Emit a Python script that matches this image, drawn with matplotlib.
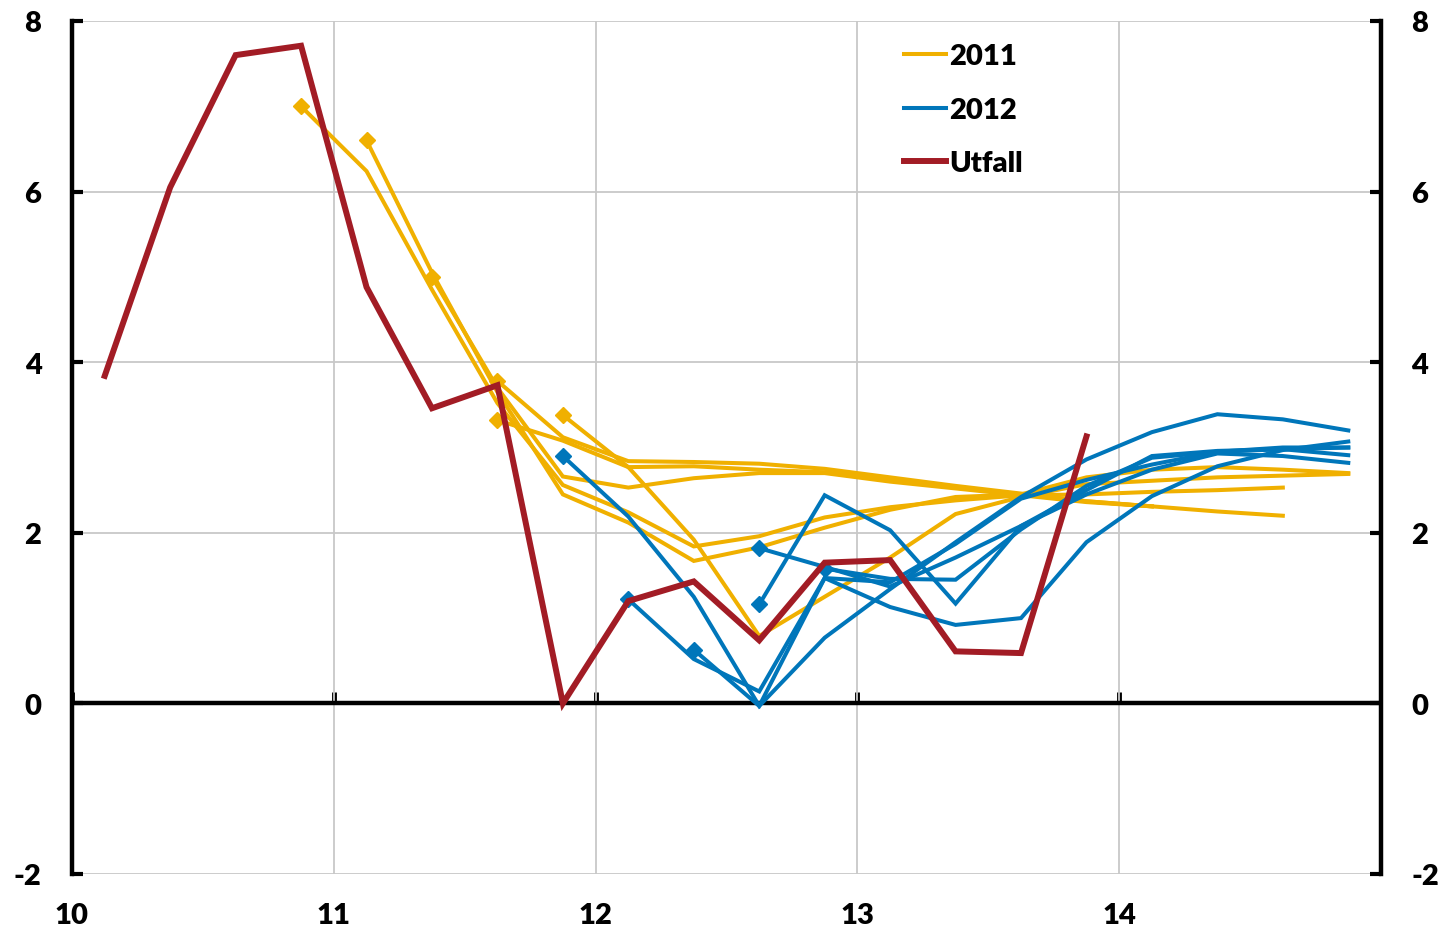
import matplotlib
matplotlib.use("Agg")
import matplotlib.pyplot as plt
from matplotlib.lines import Line2D

plt.rcParams["axes.unicode_minus"] = False

# ---------- data (annual growth, %) ----------
# each series starts at (year, quarter); one value per quarter
utfall_start = (2010, 1)
utfall = [3.84, 6.05, 7.60, 7.71, 4.88, 3.46, 3.73, 0.0,
          1.20, 1.43, 0.74, 1.65, 1.68, 0.61, 0.59, 3.13]

# 2011 forecast vintages
f2011_starts = [(2010, 4), (2011, 1), (2011, 2), (2011, 3), (2011, 3), (2011, 4)]
f2011_a = [7.00, 6.24, 4.85, 3.52, 2.56, 2.24, 1.84, 1.96, 2.18, 2.30, 2.38, 2.44, 2.45, 2.48, 2.50, 2.53]
f2011_b = [6.60, 5.05, 3.65, 2.45, 2.12, 1.67, 1.83, 2.06, 2.27, 2.42, 2.45, 2.65, 2.74, 2.77, 2.74, 2.70]
f2011_c = [5.00, 3.70, 2.66, 2.53, 2.64, 2.70, 2.70, 2.60, 2.52, 2.44, 2.36, 2.31]
f2011_d = [3.78, 3.12, 2.84, 2.83, 2.81, 2.75, 2.65, 2.55, 2.46, 2.37, 2.31, 2.25, 2.20]
f2011_e = [3.32, 3.08, 2.77, 2.78, 2.74, 2.71, 2.62, 2.53, 2.45, 2.37, 2.31]
f2011_f = [3.38, 2.77, 1.92, 0.79, 1.25, 1.71, 2.22, 2.42, 2.57, 2.61, 2.65, 2.67, 2.69]

# 2012 forecast vintages
f2012_starts = [(2011, 4), (2012, 1), (2012, 2), (2012, 3), (2012, 3), (2012, 4)]
f2012_a = [2.90, 2.19, 1.25, -0.03, 0.77, 1.34, 1.89, 2.42, 2.86, 3.18, 3.39, 3.33, 3.20]
f2012_b = [1.22, 0.52, 0.14, 1.47, 1.13, 0.92, 1.00, 1.89, 2.43, 2.78, 2.97, 3.07]
f2012_c = [0.63, -0.03, 1.47, 1.42, 1.87, 2.40, 2.62, 2.80, 2.95, 3.00, 3.00]
f2012_d = [1.82, 1.60, 1.37, 1.71, 2.08, 2.45, 2.74, 2.93, 2.90, 2.82]
f2012_e = [1.16, 2.44, 2.03, 1.17, 2.08, 2.50, 2.90, 2.96, 2.98, 2.91]
f2012_f = [1.58, 1.46, 1.45, 2.04, 2.55, 2.88, 2.95, 2.98, 3.00]

x_ticks = [10, 11, 12, 13, 14]
x_labels = ["10", "11", "12", "13", "14"]
y_ticks = [-2, 0, 2, 4, 6, 8]

ORANGE = "#F0B000"
BLUE = "#0076BA"
RED = "#A21C25"
GRID = "#C8C8C8"
FONT = "Lato"
FSIZE = 21
WEIGHT = "heavy"


def quarter_x(start, n):
    # mid-quarter positions on a "two-digit year" axis
    y, q = start
    base = (y - 2000) + (q - 0.5) / 4.0
    return [base + i / 4.0 for i in range(n)]


fig = plt.figure(figsize=(14.46, 9.29), dpi=100)
ax = fig.add_axes([72 / 1446, 54 / 929, 1309 / 1446, 853 / 929])

ax.set_xlim(10, 15)
ax.set_ylim(-2, 8)

for start, vals in zip(f2011_starts, [f2011_a, f2011_b, f2011_c, f2011_d, f2011_e, f2011_f]):
    ax.plot(quarter_x(start, len(vals)), vals, color=ORANGE, lw=2.9,
            marker="D", markersize=8.5, markevery=[0], zorder=3,
            solid_joinstyle="miter")

for start, vals in zip(f2012_starts, [f2012_a, f2012_b, f2012_c, f2012_d, f2012_e, f2012_f]):
    ax.plot(quarter_x(start, len(vals)), vals, color=BLUE, lw=2.9,
            marker="D", markersize=8.5, markevery=[0], zorder=4,
            solid_joinstyle="miter")

ax.plot(quarter_x(utfall_start, len(utfall)), utfall, color=RED, lw=4.3,
        zorder=5, solid_joinstyle="miter")

# grid and zero line
ax.set_xticks(x_ticks)
ax.set_xticklabels(x_labels)
ax.set_yticks(y_ticks)
ax.grid(True, color=GRID, lw=1.3, zorder=0)
ax.set_axisbelow(True)
ax.axhline(0, color="black", lw=3.2, zorder=2)

for side in ["top", "bottom"]:
    ax.spines[side].set_visible(False)
for side in ["left", "right"]:
    ax.spines[side].set_linewidth(3.2)
    ax.spines[side].set_color("black")

ax.tick_params(axis="x", length=0, pad=20)
ax.tick_params(axis="y", direction="in", length=8, width=3, left=True, right=True,
               labelleft=True, labelright=True, pad=22)

# little tick marks sitting on the zero line
sec = ax.secondary_xaxis(0.2)
sec.set_xticks(x_ticks)
sec.tick_params(axis="x", which="major", direction="in", length=8, width=3.5,
                color="black", labelbottom=False)
sec.spines["bottom"].set_visible(False)

for lab in ax.get_xticklabels() + ax.get_yticklabels():
    lab.set_fontfamily(FONT)
    lab.set_fontweight(WEIGHT)
    lab.set_fontsize(FSIZE)
for t in ax.yaxis.get_major_ticks():
    t.label2.set_fontfamily(FONT)
    t.label2.set_fontweight(WEIGHT)
    t.label2.set_fontsize(FSIZE)

handles = [Line2D([], [], color=ORANGE, lw=2.9),
           Line2D([], [], color=BLUE, lw=2.9),
           Line2D([], [], color=RED, lw=4.3)]
leg = ax.legend(handles, ["2011", "2012", "Utfall"], loc="upper left",
                bbox_to_anchor=(0.631, 0.981), frameon=True, handlelength=1.45,
                handletextpad=0.1, labelspacing=0.95, borderpad=0.2, borderaxespad=0,
                prop={"family": FONT, "weight": WEIGHT, "size": FSIZE})
leg.get_frame().set_edgecolor("none")
leg.get_frame().set_facecolor("white")

fig.savefig("out.png", dpi=100)
